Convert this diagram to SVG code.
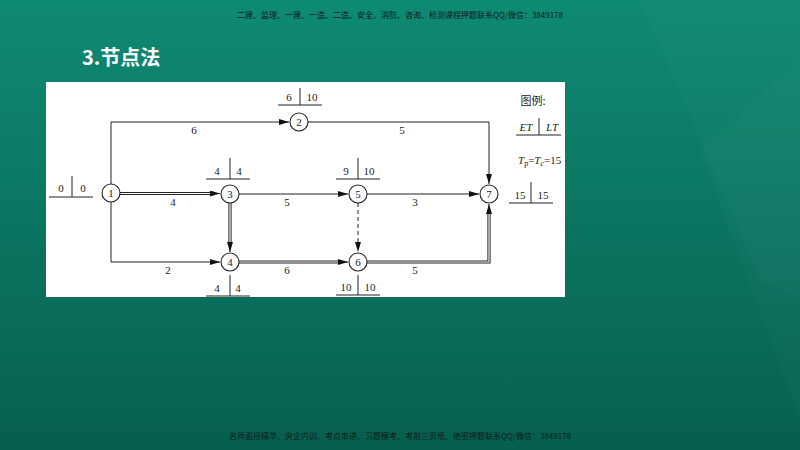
<svg xmlns="http://www.w3.org/2000/svg" width="800" height="450" viewBox="0 0 800 450">
<defs>
<linearGradient id="bg" x1="0" y1="0" x2="0" y2="1">
<stop offset="0" stop-color="#0f8a73"/>
<stop offset="1" stop-color="#075f4e"/>
</linearGradient>
<marker id="ar" viewBox="0 0 10 6" refX="10" refY="3" markerWidth="10" markerHeight="6" markerUnits="userSpaceOnUse" orient="auto">
<path d="M0,0 L10,3 L0,6 Z" fill="#111"/>
</marker>
<style>
.ln{fill:none;stroke:#222;stroke-width:1}
.db{fill:none;stroke:#222;stroke-width:3.2}
.dbi{fill:none;stroke:#fff;stroke-width:1.2}
.nd{fill:#fff;stroke:#222;stroke-width:1.1}
.t{font-family:"Liberation Serif","Times New Roman",serif;font-size:11px;fill:#222;text-anchor:middle}
.n{font-family:"Liberation Serif","Times New Roman",serif;font-size:11px;fill:#222;text-anchor:middle}
.cap{font-family:"Noto Sans CJK SC","Noto Sans",sans-serif;font-size:8px;fill:#0c1c17;text-anchor:middle}
.cjk{font-family:"Noto Sans CJK SC","Noto Sans",sans-serif}
.ser{font-family:"Liberation Serif","Times New Roman",serif}
</style>
</defs>
<rect width="800" height="450" fill="url(#bg)"/>
<polygon points="640,0 800,0 800,300 760,280" fill="#ffffff" opacity="0.02"/>
<polygon points="700,150 800,60 800,420" fill="#ffffff" opacity="0.02"/>
<text class="cap" x="400" y="18">二建、监理、一建、一造、二造、安全、消防、咨询、检测课程押题联系QQ/微信：3849178</text>
<text class="cjk" x="82" y="65" font-size="20" font-weight="bold" fill="#ffffff">3.节点法</text>
<text class="cap" x="400" y="439">名师面授精华、央企内训、考点串讲、习题模考、考前三页纸、绝密押题联系QQ/微信：3849178</text>
<rect x="46" y="82" width="519" height="215" fill="#ffffff"/>

<g id="connectors">
<path class="ln" d="M111,184 V122 H289" marker-end="url(#ar)"/>
<text class="t" x="194" y="134">6</text>
<path class="ln" d="M308,122 H489 V184" marker-end="url(#ar)"/>
<text class="t" x="402" y="134">5</text>
<path class="db" d="M120,193.5 H214"/>
<path class="dbi" d="M120,193.5 H214"/>
<path class="ln" d="M212,193.5 H220" marker-end="url(#ar)"/>
<text class="t" x="173" y="206">4</text>
<path class="ln" d="M239,194 H348" marker-end="url(#ar)"/>
<text class="t" x="287" y="206">5</text>
<path class="ln" d="M367,194 H479" marker-end="url(#ar)"/>
<text class="t" x="415" y="206">3</text>
<path class="ln" d="M111,202 V262 H220" marker-end="url(#ar)"/>
<text class="t" x="168" y="274">2</text>
<path class="db" d="M230,203 V246"/>
<path class="dbi" d="M230,203 V246"/>
<path class="ln" d="M230,244 V252" marker-end="url(#ar)"/>
<path class="db" d="M239,262 H342"/>
<path class="dbi" d="M239,262 H342"/>
<path class="ln" d="M340,262 H348" marker-end="url(#ar)"/>
<text class="t" x="287" y="274">6</text>
<path class="ln" d="M358,203 V252" stroke-dasharray="4,3" marker-end="url(#ar)"/>
<path class="db" d="M367,262 H489 V210"/>
<path class="dbi" d="M367,262 H489 V210"/>
<path class="ln" d="M489,212 V204" marker-end="url(#ar)"/>
<text class="t" x="415" y="274">5</text>
</g>

<g id="node1"><circle class="nd" cx="111" cy="193" r="9"/><text class="n" x="111" y="197">1</text>
<path class="ln" d="M49,197 H93 M72,176 V197"/><text class="t" x="61" y="192">0</text><text class="t" x="83" y="192">0</text></g>
<g id="node2"><circle class="nd" cx="299" cy="122" r="9"/><text class="n" x="299" y="126">2</text>
<path class="ln" d="M278,105 H322 M300,88 V105"/><text class="t" x="289" y="101">6</text><text class="t" x="312" y="101">10</text></g>
<g id="node3"><circle class="nd" cx="230" cy="194" r="9"/><text class="n" x="230" y="198">3</text>
<path class="ln" d="M206,179 H250 M230,158 V179"/><text class="t" x="217" y="175">4</text><text class="t" x="239" y="175">4</text></g>
<g id="node4"><circle class="nd" cx="230" cy="262" r="9"/><text class="n" x="230" y="266">4</text>
<path class="ln" d="M206,296 H250 M230,275 V296"/><text class="t" x="217" y="292">4</text><text class="t" x="238" y="292">4</text></g>
<g id="node5"><circle class="nd" cx="358" cy="194" r="9"/><text class="n" x="358" y="198">5</text>
<path class="ln" d="M336,179 H380 M358,158 V179"/><text class="t" x="346" y="175">9</text><text class="t" x="369" y="175">10</text></g>
<g id="node6"><circle class="nd" cx="358" cy="262" r="9"/><text class="n" x="358" y="266">6</text>
<path class="ln" d="M336,295 H380 M358,275 V295"/><text class="t" x="346" y="291">10</text><text class="t" x="370" y="291">10</text></g>
<g id="node7"><circle class="nd" cx="489" cy="194" r="9"/><text class="n" x="489" y="198">7</text>
<path class="ln" d="M509,203 H553 M531,182 V203"/><text class="t" x="520" y="199">15</text><text class="t" x="543" y="199">15</text></g>

<g id="legend">
<text class="cjk" x="533" y="105" font-size="11" fill="#222" text-anchor="middle">图例:</text>
<path class="ln" d="M516,135 H561 M539,118 V135"/>
<text class="t" x="526" y="131" font-style="italic">ET</text>
<text class="t" x="552" y="131" font-style="italic">LT</text>
<text class="ser" x="518" y="164" font-size="11" fill="#222"><tspan font-style="italic">T</tspan><tspan font-size="8" dy="2">p</tspan><tspan dy="-2">=</tspan><tspan font-style="italic">T</tspan><tspan font-size="8" dy="2" font-style="italic">c</tspan><tspan dy="-2">=15</tspan></text>
</g>
</svg>
